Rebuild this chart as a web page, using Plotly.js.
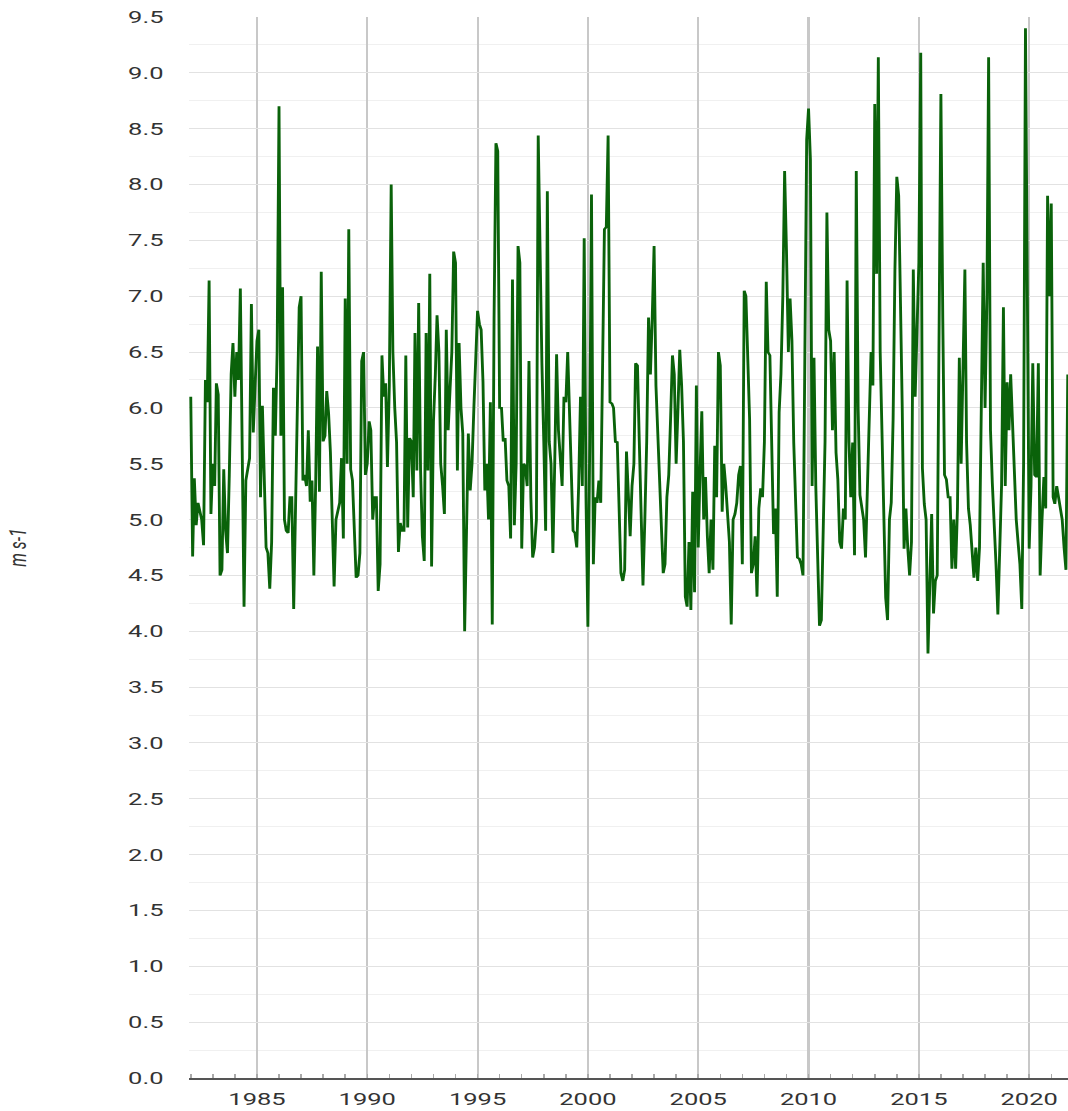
<!DOCTYPE html>
<html>
<head>
<meta charset="utf-8">
<script src="https://cdn.plot.ly/plotly-3.0.1.min.js"></script>
<style>
  html, body { margin: 0; padding: 0; background: #fff; overflow: hidden; }
  #wrap { width: 712px; height: 1111px; transform: scaleX(1.5); transform-origin: 0 0; }
</style>
</head>
<body>
<div id="wrap"><div id="chart"></div></div>
<script>
// Monthly mean wind speed (m s-1), starting January 1982
const startYear = 1982;
const ws1980s = [
  6.1, 4.67, 5.37, 4.95, 5.15, 5.05, 5.0, 4.77, 6.25, 6.05, 7.14, 5.05,
  5.5, 5.3, 6.22, 6.12, 4.5, 4.55, 5.45, 4.9, 4.7, 5.4, 6.3, 6.58,
  6.1, 6.5, 6.25, 7.07, 5.5, 4.22, 5.35, 5.45, 5.55, 6.93, 5.78, 6.2,
  6.6, 6.7, 5.2, 6.02, 5.4, 4.75, 4.7, 4.38, 4.8, 6.18, 5.75, 6.5,
  8.7, 5.75, 7.08, 5.0, 4.9, 4.88, 5.2, 5.2, 4.2, 5.3, 6.0, 6.9,
  7.0, 5.35, 5.4, 5.3, 5.8, 5.16, 5.35, 4.5, 5.35, 6.55, 5.25, 7.22,
  5.7, 5.75, 6.15, 5.95, 5.6, 5.1, 4.4, 5.0, 5.1, 5.15, 5.55, 4.83,
  6.98, 5.5, 7.6, 5.45, 5.35, 4.9, 4.48, 4.5, 4.7, 6.42, 6.5, 5.4
];
const ws1990s = [
  5.5, 5.88, 5.8, 5.0, 5.2, 5.2, 4.36, 4.6, 6.47, 6.1, 6.22, 5.47,
  6.2, 8.0, 6.5, 6.0, 5.69, 4.71, 4.97, 4.9, 4.9, 6.47, 4.93, 5.73,
  5.7, 5.2, 6.67, 5.44, 6.94, 5.45, 4.85, 4.63, 6.67, 5.44, 7.2, 4.58,
  5.88, 6.3, 6.83, 6.5, 5.5, 5.3, 5.05, 6.7, 5.8, 6.15, 6.5, 7.4,
  7.3, 5.44, 6.58, 6.0, 5.77, 4.0, 5.0, 5.77, 5.26, 5.5, 6.0, 6.6,
  6.87, 6.75, 6.7, 6.23, 5.26, 5.5, 5.0, 6.05, 4.06, 6.8, 8.37, 8.3,
  6.0, 6.0, 5.7, 5.73, 5.35, 5.3, 4.83, 7.15, 4.95, 5.5, 7.45, 7.3,
  4.74, 5.5, 5.48, 5.3, 6.42, 5.2, 4.66, 4.75, 5.0, 8.44, 7.0, 6.4,
  5.7, 4.9, 7.94, 5.7, 5.5, 4.7, 5.5, 6.48, 5.8, 5.55, 5.3, 6.1,
  6.05, 6.5, 6.0, 5.4, 4.9, 4.88, 4.75, 5.3, 6.1, 5.3, 7.52, 5.2
];
const ws2000s = [
  4.04, 5.7, 7.91, 4.6, 5.2, 5.15, 5.35, 5.15, 6.2, 7.6, 7.62, 8.44,
  6.05, 6.04, 6.0, 5.69, 5.7, 5.1, 4.52, 4.45, 4.55, 5.61, 5.1, 4.85,
  5.3, 5.5, 6.4, 6.38, 5.7, 4.95, 4.41, 5.0, 5.7, 6.81, 6.3, 6.8,
  7.45, 6.2, 5.73, 5.4, 4.95, 4.52, 4.6, 5.2, 5.4, 5.9, 6.47, 6.3,
  5.5, 6.0, 6.52, 6.2, 5.7, 4.31, 4.22, 4.8, 4.19, 5.25, 4.35, 6.2,
  4.75, 5.45, 5.97, 5.0, 5.38, 4.85, 4.52, 5.0, 4.55, 5.66, 5.2, 6.5,
  6.38, 5.07, 5.5, 5.3, 5.0, 4.8, 4.06, 5.0, 5.05, 5.15, 5.4, 5.48,
  4.6, 7.05, 7.0, 6.31, 5.9, 4.52, 4.6, 4.85, 4.31, 5.1, 5.28, 5.2,
  5.69, 7.13, 6.5, 6.47, 5.4, 4.87, 5.1, 4.31, 5.96, 6.3, 7.0, 8.12,
  7.4, 6.5, 6.98, 6.6, 5.69, 5.1, 4.66, 4.65, 4.6, 4.5, 7.05, 8.4
];
const ws2010s = [
  8.68, 8.22, 5.3, 6.45, 5.3, 4.4, 4.05, 4.1, 4.95, 5.7, 7.75, 6.7,
  6.6, 5.8, 6.5, 5.6, 5.36, 4.8, 4.74, 5.1, 5.0, 7.14, 5.7, 5.2,
  5.69, 4.68, 8.12, 6.0, 5.22, 5.1, 5.0, 4.66, 5.3, 5.69, 6.5, 6.2,
  8.72, 7.2, 9.14, 6.5, 5.8, 5.0, 4.3, 4.1, 5.0, 5.15, 5.9, 7.24,
  8.07, 7.9, 7.2, 6.0, 4.74, 5.1, 4.75, 4.5, 4.8, 7.24, 6.1, 6.7,
  7.3, 9.18, 5.46, 5.14, 5.0, 3.8, 4.6, 5.05, 4.16, 4.45, 4.5, 6.2,
  8.81, 6.8, 5.4, 5.36, 5.2, 5.2, 4.56, 5.0, 4.56, 5.1, 6.45, 5.5,
  6.45, 7.24, 5.69, 5.1, 4.95, 4.75, 4.48, 4.75, 4.45, 4.75, 6.0, 7.3,
  6.0, 7.0, 9.14, 5.8, 5.33, 5.0, 4.6, 4.15, 4.9, 5.3, 6.9, 5.3,
  6.23, 5.8, 6.3, 5.8, 5.4, 5.0, 4.8, 4.6, 4.2, 5.5, 9.4, 7.0
];
const ws2020s = [
  4.74, 5.3, 6.4, 5.4, 5.38, 6.4, 4.5, 5.0, 5.38, 5.1, 7.9, 7.0,
  7.83, 5.2, 5.14, 5.3, 5.2, 5.15, 5.0, 4.75, 4.55, 6.3
];
const yTickVals = [0, 0.5, 1, 1.5, 2, 2.5, 3, 3.5, 4, 4.5, 5, 5.5, 6, 6.5, 7, 7.5, 8, 8.5, 9, 9.5];
const yTickText = ["0.0","0.5","1.0","1.5","2.0","2.5","3.0","3.5","4.0","4.5","5.0","5.5","6.0","6.5","7.0","7.5","8.0","8.5","9.0","9.5"];
const yTitle = "m s-1";

const values = [].concat(ws1980s, ws1990s, ws2000s, ws2010s, ws2020s);
const dates = values.map((v, i) => {
  const y = startYear + Math.floor(i / 12);
  const m = (i % 12) + 1;
  return y + "-" + String(m).padStart(2, "0") + "-01";
});

const trace = {
  x: dates,
  y: values,
  type: "scatter",
  mode: "lines",
  line: { color: "#0a620a", width: 1.9 },
  hoverinfo: "skip"
};

const layout = {
  width: 712,
  height: 1111,
  margin: { l: 126, r: 0, t: 17, b: 33 },
  paper_bgcolor: "#ffffff",
  plot_bgcolor: "#ffffff",
  showlegend: false,
  font: { family: "Roboto, sans-serif", size: 17, color: "#333333" },
  xaxis: {
    type: "date",
    range: ["1981-12-03", "2021-10-05"],
    tick0: "1985-01-01",
    dtick: "M60",
    tickformat: "%Y",
    showgrid: true,
    gridcolor: "#c8c8c8",
    gridwidth: 1.4,
    showline: true,
    linecolor: "#555555",
    linewidth: 2,
    ticks: "inside",
    ticklen: 4,
    tickcolor: "#aaaaaa",
    tickwidth: 1,
    ticklabelstandoff: 5,
    minor: { tick0: "1982-01-01", dtick: "M12", ticks: "inside", ticklen: 4, tickcolor: "#aaaaaa", tickwidth: 1, showgrid: false },
    zeroline: false,
    tickfont: { family: "Roboto, sans-serif", size: 17, color: "#333333" }
  },
  yaxis: {
    range: [0, 9.5],
    tickmode: "array",
    tickvals: yTickVals,
    ticktext: yTickText,
    showgrid: true,
    gridcolor: "#e2e2e2",
    gridwidth: 1,
    minor: { dtick: 0.25, showgrid: true, gridcolor: "#f0f0f0", gridwidth: 1 },
    showline: false,
    zeroline: false,
    ticks: "",
    ticklabelstandoff: 16,
    tickfont: { family: "Roboto, sans-serif", size: 17, color: "#333333" },
    title: {
      text: "<i>" + yTitle + "</i>",
      font: { family: "Roboto, sans-serif", size: 16, color: "#333333" },
      standoff: 63
    },
    automargin: false
  }
};

Plotly.newPlot("chart", [trace], layout, { staticPlot: true, displayModeBar: false });
</script>
</body>
</html>
